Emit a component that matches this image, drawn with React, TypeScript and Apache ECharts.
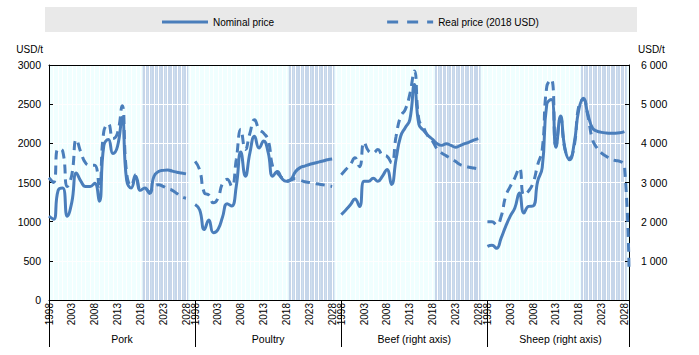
import React, { useEffect, useRef } from "react";
import * as echarts from "echarts";

const years = [
  "1998", "1999", "2000", "2001", "2002", "2003", "2004", "2005", "2006", "2007",
  "2008", "2009", "2010", "2011", "2012", "2013", "2014", "2015", "2016", "2017",
  "2018", "2019", "2020", "2021", "2022", "2023", "2024", "2025", "2026", "2027", "2028",
];
const panels = ["Pork", "Poultry", "Beef (right axis)", "Sheep (right axis)"];
const projectionFrom = "2019";

// Left axis (USD/t)
const porkNominal = [1070, 1030, 1400, 1430, 1070, 1250, 1620, 1515, 1450, 1450, 1490, 1260, 1970, 2050, 1870, 1960, 2330, 1530, 1430, 1580, 1400, 1430, 1360, 1580, 1640, 1655, 1660, 1645, 1630, 1620, 1610];
const porkReal = [1560, 1500, 1930, 1900, 1450, 1600, 2050, 1880, 1750, 1720, 1720, 1450, 2150, 2250, 2060, 2130, 2480, 1620, 1460, 1600, 1420, 1420, 1380, 1450, 1470, 1450, 1420, 1400, 1360, 1320, 1300];
const poultryNominal = [1220, 1150, 900, 1020, 860, 900, 1060, 1230, 1200, 1450, 1890, 1580, 1880, 2090, 1940, 2030, 1880, 1580, 1640, 1550, 1515, 1540, 1640, 1690, 1710, 1730, 1745, 1760, 1775, 1790, 1800];
const poultryReal = [1770, 1660, 1370, 1340, 1240, 1300, 1490, 1540, 1450, 1790, 2180, 1920, 2130, 2300, 2180, 2130, 2040, 1700, 1620, 1560, 1515, 1530, 1550, 1530, 1510, 1500, 1490, 1480, 1470, 1460, 1450];

// Right axis (USD/t)
const beefNominal = [2180, 2300, 2430, 2580, 2390, 3030, 3030, 3110, 3030, 3160, 3330, 2950, 3600, 4180, 4400, 4600, 5500, 4480, 4330, 4200, 4100, 3990, 3950, 3990, 3950, 3900, 3940, 3990, 4030, 4080, 4120];
const beefReal = [3200, 3330, 3460, 3630, 3400, 4030, 3800, 3760, 3840, 3700, 3670, 3500, 4180, 4690, 4860, 5250, 5850, 4600, 4400, 4180, 4050, 3850, 3750, 3680, 3610, 3540, 3460, 3420, 3390, 3370, 3350];
const sheepNominal = [1370, 1400, 1320, 1580, 1880, 2140, 2350, 2730, 2220, 2390, 2400, 3030, 3380, 5000, 5120, 3900, 4700, 3850, 3580, 4000, 4850, 5150, 4740, 4390, 4310, 4280, 4265, 4260, 4260, 4270, 4300];
const sheepReal = [2000, 2000, 1920, 2130, 2650, 2900, 3120, 3370, 2680, 2780, 2990, 3450, 3840, 5450, 5630, 3930, 4650, 3840, 3630, 3930, 4950, 5120, 4700, 4100, 3880, 3750, 3670, 3600, 3560, 3540, 3420];
const sheepRealEnd = 700;

const leftMax = 3000;
const rightMax = 6000;
const BLUE = "#4A7EBB";
const FONT = "'Liberation Sans', Arial, sans-serif";

const slot = years.length + 1; // 31 years + one empty category per panel

function buildCategories(): string[] {
  const out: string[] = [];
  panels.forEach(() => {
    years.forEach((y) => out.push(y));
    out.push("");
  });
  return out;
}

function buildPanelNames(): string[] {
  const out: string[] = [];
  panels.forEach((p) => {
    for (let i = 0; i < slot; i++) out.push(i === Math.floor(slot / 2) ? p : "");
  });
  return out;
}

const nulls = (n: number) => Array(n).fill(null);

export default function App() {
  const ref = useRef<HTMLDivElement>(null);
  useEffect(() => {
    document.body.style.margin = "0";
    if (!ref.current) return;
    const chart = echarts.init(ref.current, null, { renderer: "svg" });
    const cats = buildCategories();
    const names = buildPanelNames();
    const leftNominal = [...porkNominal, null, ...poultryNominal, null, ...nulls(slot * 2)];
    const leftReal = [...porkReal, null, ...poultryReal, null, ...nulls(slot * 2)];
    const rightNominal = [...nulls(slot * 2), ...beefNominal, null, ...sheepNominal, null];
    const rightReal = [...nulls(slot * 2), ...beefReal, null, ...sheepReal, sheepRealEnd];
    const projection: (number | null)[] = [];
    panels.forEach(() => {
      years.forEach((y) => projection.push(y >= projectionFrom ? leftMax : null));
      projection.push(null);
    });
    const fmtSpace = (v: number) => (v === 0 ? "" : String(v).replace(/\B(?=(\d{3})+(?!\d))/g, " "));

    const lineCommon = {
      type: "line",
      smooth: true,
      symbol: "none",
      connectNulls: false,
      z: 5,
      color: BLUE,
    };

    chart.setOption({
      animation: false,
      textStyle: { fontFamily: FONT, fontSize: 10, color: "#000" },
      graphic: [
        {
          type: "rect",
          shape: { x: 45, y: 7, width: 592, height: 25 },
          style: { fill: "#E9E9E9" },
          z: 0,
        },
      ],
      legend: {
        left: 157,
        top: 12,
        itemWidth: 46,
        itemHeight: 3,
        itemGap: 113,
        data: [
          { name: "Nominal price", icon: "path://M0,0h46v3h-46z" },
          { name: "Real price (2018 USD)", icon: "path://M0,0h11v3h-11zM20,0h11v3h-11zM40,0h6v3h-6z" },
        ],
        textStyle: { fontFamily: FONT, fontSize: 10, color: "#000" },
        z: 5,
      },
      grid: {
        left: 49,
        right: 70,
        top: 65,
        bottom: 55,
        show: true,
        backgroundColor: "#F0FFFF",
        borderWidth: 0,
      },
      xAxis: [
        {
          type: "category",
          data: cats,
          boundaryGap: false,
          position: "bottom",
          z: 3,
          axisLine: { lineStyle: { color: "#000", width: 1 } },
          axisTick: {
            show: true,
            interval: (i: number) => i % slot === 0 || i === cats.length - 1,
            length: 47,
            lineStyle: { color: "#000", width: 1 },
          },
          axisLabel: {
            interval: (i: number) => {
              const k = i % slot;
              return k < years.length && k % 5 === 0;
            },
            rotate: 90,
            margin: 3,
            fontFamily: FONT,
            fontSize: 10,
            color: "#000",
          },
          splitLine: { show: true, interval: 0, lineStyle: { color: "#FFFFFF", width: 1 } },
        },
        {
          type: "category",
          data: names,
          boundaryGap: false,
          position: "bottom",
          axisLine: { show: false },
          axisTick: { show: false },
          splitLine: { show: false },
          axisLabel: {
            interval: (i: number) => i % slot === Math.floor(slot / 2),
            margin: 33,
            fontFamily: FONT,
            fontSize: 10.5,
            color: "#000",
          },
        },
        {
          type: "category",
          data: cats,
          boundaryGap: false,
          position: "top",
          z: 3,
          axisLine: { show: true, lineStyle: { color: "#000", width: 1 } },
          axisTick: { show: false },
          axisLabel: { show: false },
          splitLine: { show: false },
        },
      ],
      yAxis: [
        {
          type: "value",
          min: 0,
          max: leftMax,
          interval: 500,
          position: "left",
          z: 3,
          name: "USD/t",
          nameLocation: "end",
          nameGap: 11,
          nameTextStyle: { align: "right", padding: [0, 6, 0, 0], fontFamily: FONT, fontSize: 10, color: "#000" },
          axisLine: { show: true, lineStyle: { color: "#000", width: 1 } },
          axisTick: { show: true, inside: true, length: 4, lineStyle: { color: "#000" } },
          axisLabel: { margin: 8, fontFamily: FONT, fontSize: 10.5, color: "#000", formatter: (v: number) => String(v) },
          splitLine: { show: true, lineStyle: { color: "#FFFFFF", width: 1 } },
        },
        {
          type: "value",
          min: 0,
          max: rightMax,
          interval: 1000,
          position: "right",
          z: 3,
          name: "USD/t",
          nameLocation: "end",
          nameGap: 11,
          nameTextStyle: { align: "left", padding: [0, 0, 0, 9], fontFamily: FONT, fontSize: 10, color: "#000" },
          axisLine: { show: true, lineStyle: { color: "#000", width: 1 } },
          axisTick: { show: true, inside: true, length: 4, lineStyle: { color: "#000" } },
          axisLabel: { margin: 12, fontFamily: FONT, fontSize: 10.5, color: "#000", formatter: fmtSpace },
          splitLine: { show: false },
        },
      ],
      series: [
        {
          name: "Projection",
          type: "bar",
          data: projection,
          xAxisIndex: 0,
          yAxisIndex: 0,
          barWidth: "100%",
          barCategoryGap: "0%",
          itemStyle: { color: "#C6D6EA" },
          z: 1,
          silent: true,
        },
        {
          ...lineCommon,
          name: "Nominal price",
          data: leftNominal,
          yAxisIndex: 0,
          lineStyle: { color: BLUE, width: 3 },
        },
        {
          ...lineCommon,
          name: "Nominal price",
          data: rightNominal,
          yAxisIndex: 1,
          lineStyle: { color: BLUE, width: 3 },
        },
        {
          ...lineCommon,
          name: "Real price (2018 USD)",
          data: leftReal,
          yAxisIndex: 0,
          lineStyle: { color: BLUE, width: 3, type: [9, 6] },
        },
        {
          ...lineCommon,
          name: "Real price (2018 USD)",
          data: rightReal,
          yAxisIndex: 1,
          lineStyle: { color: BLUE, width: 3, type: [9, 6] },
        },
      ],
    });
    return () => chart.dispose();
  }, []);
  return <div ref={ref} style={{ width: 699, height: 355 }} />;
}
